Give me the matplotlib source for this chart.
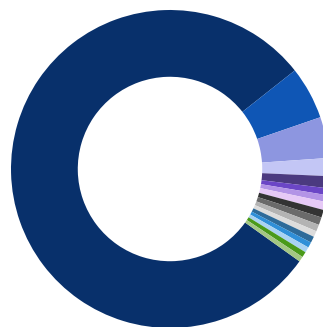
import matplotlib
matplotlib.use("Agg")
import matplotlib.pyplot as plt

categories = ["A", "B", "C", "D", "E", "F", "G", "H", "I", "J",
              "K", "L", "M", "N", "O", "P", "Q"]
values = [79.5, 5.36, 4.17, 1.83, 1.22, 0.69, 0.69, 0.83, 0.78, 0.78,
          0.69, 0.61, 0.64, 0.56, 0.56, 0.56, 0.53]
colors = ["#08306b", "#0f56b5", "#8d96e0", "#c3c6f5", "#4b3a80", "#6b46c6",
          "#b394e6", "#e6c9f6", "#333333", "#6a6a6a", "#b3b3b3", "#dcdcdc",
          "#2d6a99", "#2f8fd8", "#a9d2f2", "#4a9a1a", "#a3c783"]

W, H = 323, 327
cx, cy, R = 170, 169, 159
fig = plt.figure(figsize=(W / 100, H / 100), dpi=100)
ax = fig.add_axes([(cx - R) / W, (H - cy - R) / H, 2 * R / W, 2 * R / H])
ax.pie(values, colors=colors, startangle=-35.5, counterclock=False,
       radius=1.0, wedgeprops=dict(width=0.42, linewidth=0))
ax.set_xlim(-1, 1)
ax.set_ylim(-1, 1)
ax.set_aspect("auto")
ax.axis("off")
fig.savefig("out.png", dpi=100)
